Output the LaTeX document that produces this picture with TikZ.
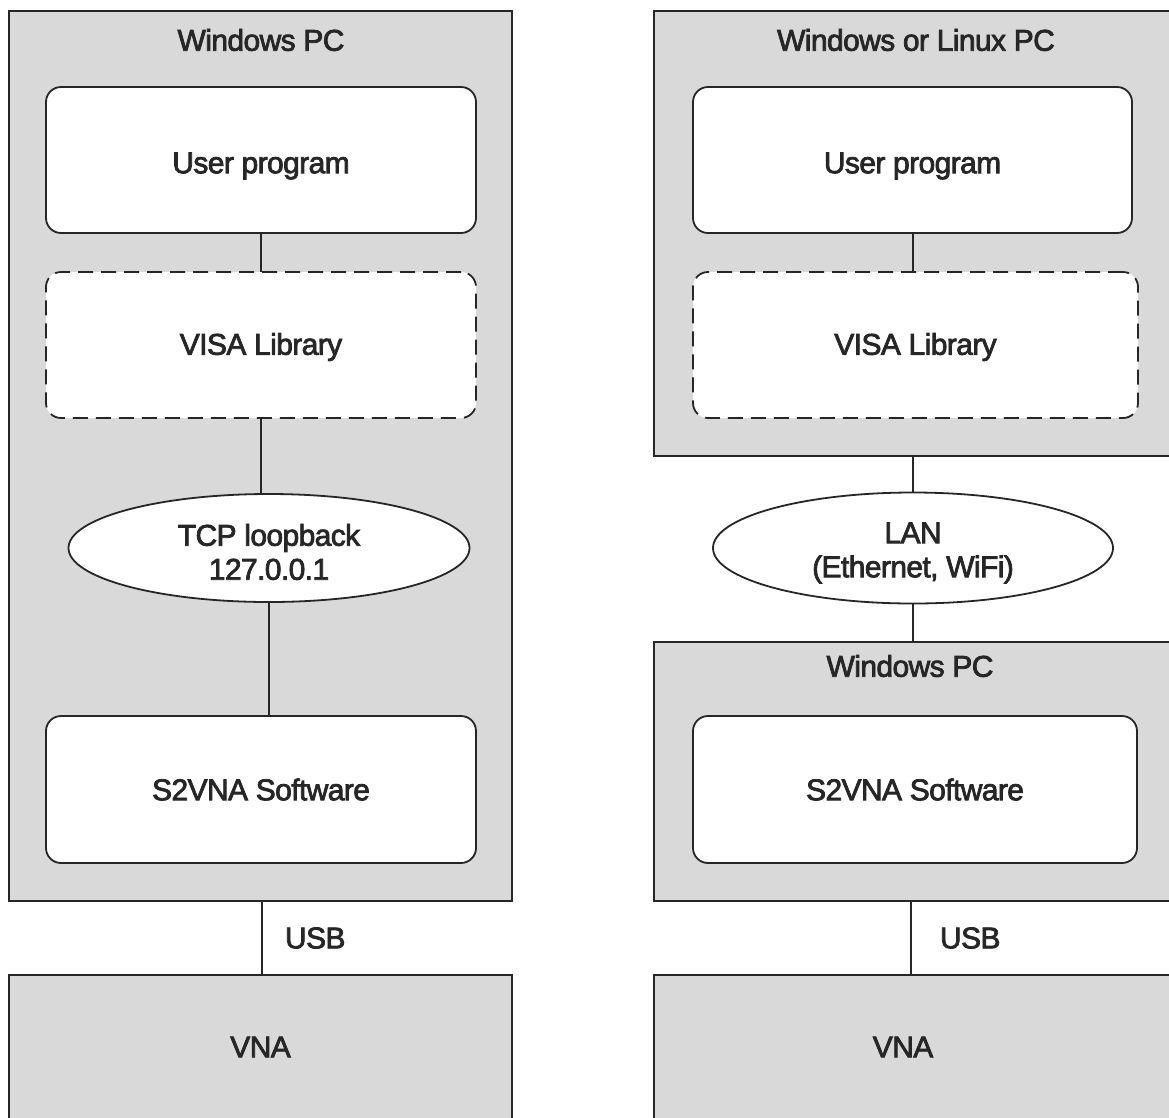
\documentclass[tikz,border=0pt]{standalone}
\usepackage{fontspec}
\setmainfont{Liberation Sans}
\newfontfamily\diagfont[FakeBold=2.5,LetterSpace=-2]{Liberation Sans}
\usetikzlibrary{shapes.geometric}
\definecolor{boxgray}{HTML}{D9D9D9}
\definecolor{txtgray}{HTML}{262626}
\tikzset{
  x=1pt, y=-1pt,
  every node/.style={font=\diagfont\fontsize{30}{34}\selectfont, text=txtgray, inner sep=0pt, outer sep=0pt, align=center},
  graybox/.style={draw=black!85, line width=1.8pt, fill=boxgray, rectangle},
  softbox/.style={draw=black!85, line width=1.8pt, fill=white, rectangle, rounded corners=15pt, minimum width=430pt, minimum height=146pt},
  dashbox/.style={softbox, dash pattern=on 15pt off 8pt},
  oval/.style={draw=black!85, line width=1.8pt, fill=white, ellipse},
  link/.style={draw=black!85, line width=1.8pt},
  titletext/.style={}
}
\begin{document}
\begin{tikzpicture}
\useasboundingbox (0,0) rectangle (1169,1117);
\clip (0,0) rectangle (1169,1117);
% ---------------- left column ----------------
\node[graybox, minimum width=503pt, minimum height=890pt] (pcL) at (260.5,456) {};
\node[titletext] (pcLt) at (261,40) {Windows PC};
\node[softbox, label={[yshift=-6pt]center:User program}] (userL) at (261,160) {};
\node[dashbox, label={[yshift=-2pt]center:VISA Library}] (visaL) at (261,345) {};
\node[oval, minimum width=401pt, minimum height=108pt, label={[yshift=-4pt]center:{TCP loopback\\127.0.0.1}}] (tcp) at (269,548) {};
\node[softbox, minimum height=147pt] (s2L) at (261,789.5) {S2VNA Software};
\node[graybox, minimum width=503pt, minimum height=144pt] (vnaL) at (260.5,1047) {VNA};
\draw[link] (userL.south) -- (visaL.north);
\draw[link] (visaL.south) -- (visaL.south |- tcp.north);
\draw[link] (s2L.north -| tcp.south) -- (tcp.south);
\draw[link] (pcL.south -| 262,0) -- (vnaL.north -| 262,0);
\node[anchor=west] (usbL) at (285,938) {USB};
% ---------------- right column ----------------
\node[graybox, minimum width=526pt, minimum height=445pt] (topR) at (917,233.5) {};
\node[titletext] (topRt) at (916,40) {Windows or Linux PC};
\node[softbox, minimum width=439pt, label={[yshift=-6pt]center:User program}] (userR) at (912.5,160) {};
\node[dashbox, minimum width=445pt, label={[yshift=-2pt]center:VISA Library}] (visaR) at (915.5,345) {};
\node[oval, minimum width=400pt, minimum height=111pt, label={[yshift=-5pt]center:{LAN\\(Ethernet, WiFi)}}] (lan) at (913,548) {};
\node[graybox, minimum width=526pt, minimum height=259pt] (pcR) at (917,771.5) {};
\node[titletext] (pcRt) at (910,666) {Windows PC};
\node[softbox, minimum width=444pt, minimum height=147pt] (s2R) at (915,789.5) {S2VNA Software};
\node[graybox, minimum width=526pt, minimum height=144pt] (vnaR) at (917,1047) {};
\node (vnaRt) at (903,1047) {VNA};
\draw[link] (userR.south -| lan.north) -- (visaR.north -| lan.north);
\draw[link] (topR.south -| lan.north) -- (lan.north);
\draw[link] (lan.south) -- (pcR.north -| lan.south);
\draw[link] (pcR.south -| 911,0) -- (vnaR.north -| 911,0);
\node[anchor=west] (usbR) at (940,938) {USB};
\end{tikzpicture}
\end{document}
